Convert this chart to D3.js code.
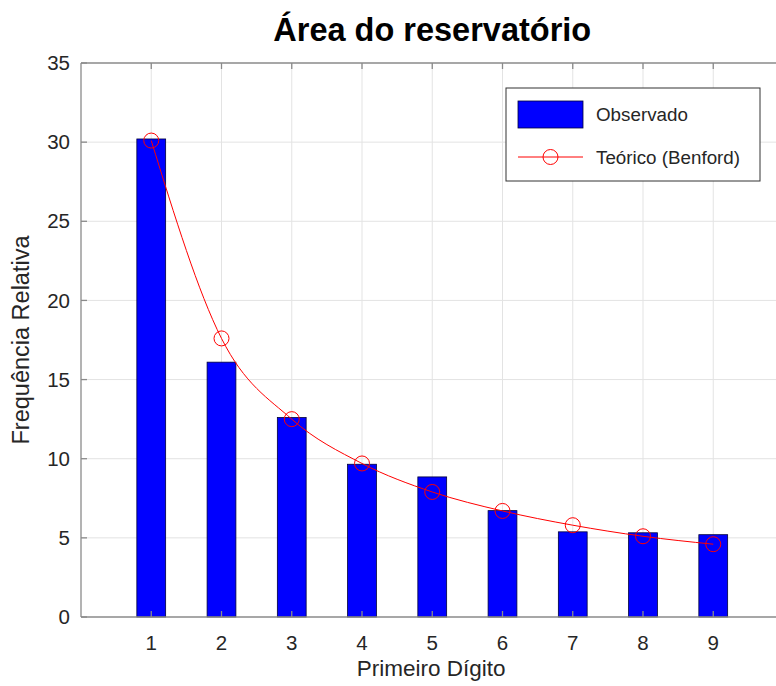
<!DOCTYPE html>
<html>
<head>
<meta charset="utf-8">
<script src="https://cdn.jsdelivr.net/npm/d3@7"></script>
<style>
  html, body { margin: 0; padding: 0; background: #fff; }
  svg { display: block; font-family: "Liberation Sans", Arial, Helvetica, sans-serif; }
</style>
</head>
<body>
<svg id="chart" width="776" height="686"></svg>
<script>
const title = "Área do reservatório";
const xLabel = "Primeiro Dígito";
const yLabel = "Frequência Relativa";
const digits = [1, 2, 3, 4, 5, 6, 7, 8, 9];
const observed = [30.2, 16.1, 12.6, 9.65, 8.85, 6.72, 5.38, 5.32, 5.2];
const benford = [30.1, 17.6, 12.5, 9.7, 7.9, 6.7, 5.8, 5.1, 4.6];
const yTicks = [0, 5, 10, 15, 20, 25, 30, 35];
const legendLabels = ["Observado", "Teórico (Benford)"];

const svg = d3.select("#chart");
const pLeft = 81, pRight = 783.5, pTop = 63, pBottom = 617;
const x = d3.scaleLinear().domain([0, 10]).range([pLeft, pRight]);
const y = d3.scaleLinear().domain([0, 35]).range([pBottom, pTop]);
const gridColor = "#e3e3e3";
const axisColor = "#8a8a8a";
const textColor = "#262626";

// grid
const grid = svg.append("g");
grid.selectAll(".gx").data(digits).enter().append("line")
  .attr("x1", d => x(d)).attr("x2", d => x(d))
  .attr("y1", pTop).attr("y2", pBottom)
  .attr("stroke", gridColor).attr("stroke-width", 1);
grid.selectAll(".gy").data(yTicks.slice(1, -1)).enter().append("line")
  .attr("x1", pLeft).attr("x2", pRight)
  .attr("y1", d => y(d)).attr("y2", d => y(d))
  .attr("stroke", gridColor).attr("stroke-width", 1);

// bars
const bw = x(0.41) - x(0);
svg.append("g").selectAll("rect").data(digits).enter().append("rect")
  .attr("x", (d, i) => x(d) - bw / 2)
  .attr("y", (d, i) => y(observed[i]))
  .attr("width", bw)
  .attr("height", (d, i) => y(0) - y(observed[i]))
  .attr("fill", "#0000ff")
  .attr("stroke", "#00003a").attr("stroke-width", 0.8);

// benford line
const pts = digits.map((d, i) => [d, benford[i]]);
svg.append("path")
  .datum(pts)
  .attr("d", d3.line().x(p => x(p[0])).y(p => y(p[1])).curve(d3.curveMonotoneX))
  .attr("fill", "none").attr("stroke", "#ff0000").attr("stroke-width", 1);
svg.append("g").selectAll("circle").data(pts).enter().append("circle")
  .attr("cx", p => x(p[0])).attr("cy", p => y(p[1])).attr("r", 7.5)
  .attr("fill", "none").attr("stroke", "#ff0000").attr("stroke-width", 1);

// axes box lines
const ax = svg.append("g").attr("stroke", axisColor).attr("stroke-width", 1.3).attr("fill", "none");
ax.append("line").attr("x1", pLeft).attr("x2", pRight).attr("y1", pTop).attr("y2", pTop);
ax.append("line").attr("x1", pLeft).attr("x2", pRight).attr("y1", pBottom).attr("y2", pBottom);
ax.append("line").attr("x1", pLeft).attr("x2", pLeft).attr("y1", pTop).attr("y2", pBottom);

// ticks (inward)
const tl = 6;
ax.selectAll(".tt").data(digits).enter().append("line")
  .attr("x1", d => x(d)).attr("x2", d => x(d)).attr("y1", pTop).attr("y2", pTop + tl);
ax.selectAll(".tb").data(digits).enter().append("line")
  .attr("x1", d => x(d)).attr("x2", d => x(d)).attr("y1", pBottom).attr("y2", pBottom - tl);
ax.selectAll(".tly").data(yTicks).enter().append("line")
  .attr("x1", pLeft).attr("x2", pLeft + tl).attr("y1", d => y(d)).attr("y2", d => y(d));

// tick labels
svg.append("g").selectAll("text").data(digits).enter().append("text")
  .attr("x", d => x(d)).attr("y", 650)
  .attr("text-anchor", "middle").attr("font-size", 20.5).attr("fill", textColor)
  .text(d => d);
svg.append("g").selectAll("text").data(yTicks).enter().append("text")
  .attr("x", 70).attr("y", d => y(d)).attr("dy", "0.35em")
  .attr("text-anchor", "end").attr("font-size", 20.5).attr("fill", textColor)
  .text(d => d);

// axis labels
svg.append("text").attr("x", (pLeft + pRight) / 2 - 1).attr("y", 676)
  .attr("text-anchor", "middle").attr("font-size", 22.5).attr("fill", textColor).text(xLabel);
svg.append("text")
  .attr("transform", `translate(29, ${(pTop + pBottom) / 2}) rotate(-90)`)
  .attr("text-anchor", "middle").attr("font-size", 23.5).attr("fill", textColor).text(yLabel);

// title
svg.append("text").attr("x", (pLeft + pRight) / 2).attr("y", 41)
  .attr("text-anchor", "middle").attr("font-size", 32.5).attr("font-weight", "bold")
  .attr("fill", "#000").text(title);

// legend
const lg = svg.append("g");
lg.append("rect").attr("x", 506).attr("y", 88).attr("width", 254).attr("height", 93)
  .attr("fill", "#fff").attr("stroke", "#333").attr("stroke-width", 1);
lg.append("rect").attr("x", 518).attr("y", 101).attr("width", 65).attr("height", 27)
  .attr("fill", "#0000ff").attr("stroke", "#00003a").attr("stroke-width", 0.8);
lg.append("line").attr("x1", 518).attr("x2", 583).attr("y1", 157).attr("y2", 157)
  .attr("stroke", "#ff0000").attr("stroke-width", 1);
lg.append("circle").attr("cx", 550.5).attr("cy", 157).attr("r", 7.5)
  .attr("fill", "none").attr("stroke", "#ff0000").attr("stroke-width", 1);
lg.selectAll(".lt").data(legendLabels).enter().append("text")
  .attr("x", 596).attr("y", (d, i) => i === 0 ? 121 : 164)
  .attr("font-size", 18.8).attr("fill", textColor).text(d => d);
</script>
</body>
</html>
